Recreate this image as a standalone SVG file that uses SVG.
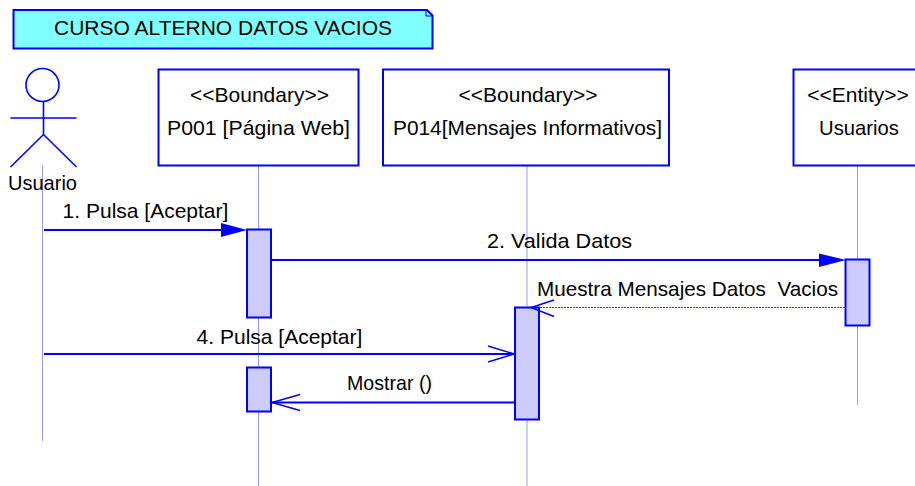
<svg xmlns="http://www.w3.org/2000/svg" width="915" height="486" viewBox="0 0 915 486">
<style>
text{font-family:"Liberation Sans",Arial,sans-serif;font-size:21px;fill:#000;text-anchor:middle;white-space:pre;lengthAdjust:spacingAndGlyphs}
.box{fill:#fff;stroke:#0000ff;stroke-width:2}
.act{fill:#ccccff;stroke:#0000ff;stroke-width:2}
.life{stroke:#9999ee;stroke-width:1;fill:none}
.msg{stroke:#0000ff;stroke-width:2;fill:none}
.ret{stroke:#3333ff;stroke-width:1;stroke-dasharray:2 1;fill:none}
.head{stroke:#0000ff;stroke-width:1.5;fill:none}
.fillhead{fill:#0000ff;stroke:none}
.fig{stroke:#0000ff;stroke-width:1.6;fill:none}
</style>
<rect width="915" height="486" fill="#fff"/>
<g id="note">
<path d="M13.500 10H427L432.500 15.500V48.500H13.500Z" fill="#80ffff" stroke="#0000ff" stroke-width="2"/>
<path d="M426 10V16H432" fill="none" stroke="#0000ff" stroke-width="1"/>
<text x="223" y="35">CURSO ALTERNO DATOS VACIOS</text>
</g>
<g id="lifelines">
<line class="life" x1="42.500" y1="165" x2="42.500" y2="441"/>
<line class="life" x1="258.500" y1="165" x2="258.500" y2="486"/>
<line class="life" x1="527" y1="165" x2="527" y2="486"/>
<line class="life" x1="857.500" y1="165" x2="857.500" y2="405"/>
</g>
<g id="actor-usuario">
<circle class="fig" cx="42.500" cy="85" r="16.500"/>
<path class="fig" d="M43.500 101.500V134.500M10.500 118H76.500M10.500 167L43.500 134.500L76.500 167"/>
<text x="42.500" y="190" textLength="69" lengthAdjust="spacingAndGlyphs">Usuario</text>
</g>
<g id="node-p001">
<rect class="box" x="158.500" y="69.500" width="200" height="96"/>
<text x="259.500" y="102">&lt;&lt;Boundary&gt;&gt;</text>
<text x="258.500" y="135" textLength="183" lengthAdjust="spacingAndGlyphs">P001 [Página Web]</text>
</g>
<g id="node-p014">
<rect class="box" x="383" y="69.500" width="286" height="96"/>
<text x="528" y="102">&lt;&lt;Boundary&gt;&gt;</text>
<text x="527.500" y="135" textLength="269" lengthAdjust="spacingAndGlyphs">P014[Mensajes Informativos]</text>
</g>
<g id="node-usuarios">
<rect class="box" x="793.500" y="69.500" width="130" height="96"/>
<text x="858" y="102">&lt;&lt;Entity&gt;&gt;</text>
<text x="859" y="135" textLength="80" lengthAdjust="spacingAndGlyphs">Usuarios</text>
</g>
<g id="activations">
<rect class="act" x="247" y="229.500" width="24" height="88"/>
<rect class="act" x="247" y="367.500" width="24" height="44"/>
<rect class="act" x="515" y="307.500" width="24" height="112"/>
<rect class="act" x="845.500" y="259.500" width="24" height="66"/>
</g>
<g id="connectors">
<line class="msg" x1="44" y1="230" x2="222" y2="230"/>
<path class="fillhead" d="M221 223L247 230L221 237Z"/>
<line class="msg" x1="271" y1="260" x2="820" y2="260"/>
<path class="fillhead" d="M819 253.500L846 260L819 267Z"/>
<line class="ret" x1="845" y1="307.500" x2="539" y2="307.500"/>
<path class="head" d="M554 300L531 307.500L554 316.500"/>
<line class="msg" x1="44" y1="354" x2="514" y2="354"/>
<path class="head" d="M488 346L514 354L488 362"/>
<line class="msg" x1="515" y1="402.500" x2="272" y2="402.500"/>
<path class="head" d="M300 394.500L272 402.500L300 410.500"/>
</g>
<g id="labels">
<text x="145.500" y="218">1. Pulsa [Aceptar]</text>
<text x="559.500" y="248" textLength="145" lengthAdjust="spacingAndGlyphs">2. Valida Datos</text>
<text x="687.500" y="296" textLength="301" lengthAdjust="spacingAndGlyphs">Muestra Mensajes Datos  Vacios</text>
<text x="279.500" y="344">4. Pulsa [Aceptar]</text>
<text x="389.500" y="390" textLength="85" lengthAdjust="spacingAndGlyphs">Mostrar ()</text>
</g>
</svg>
